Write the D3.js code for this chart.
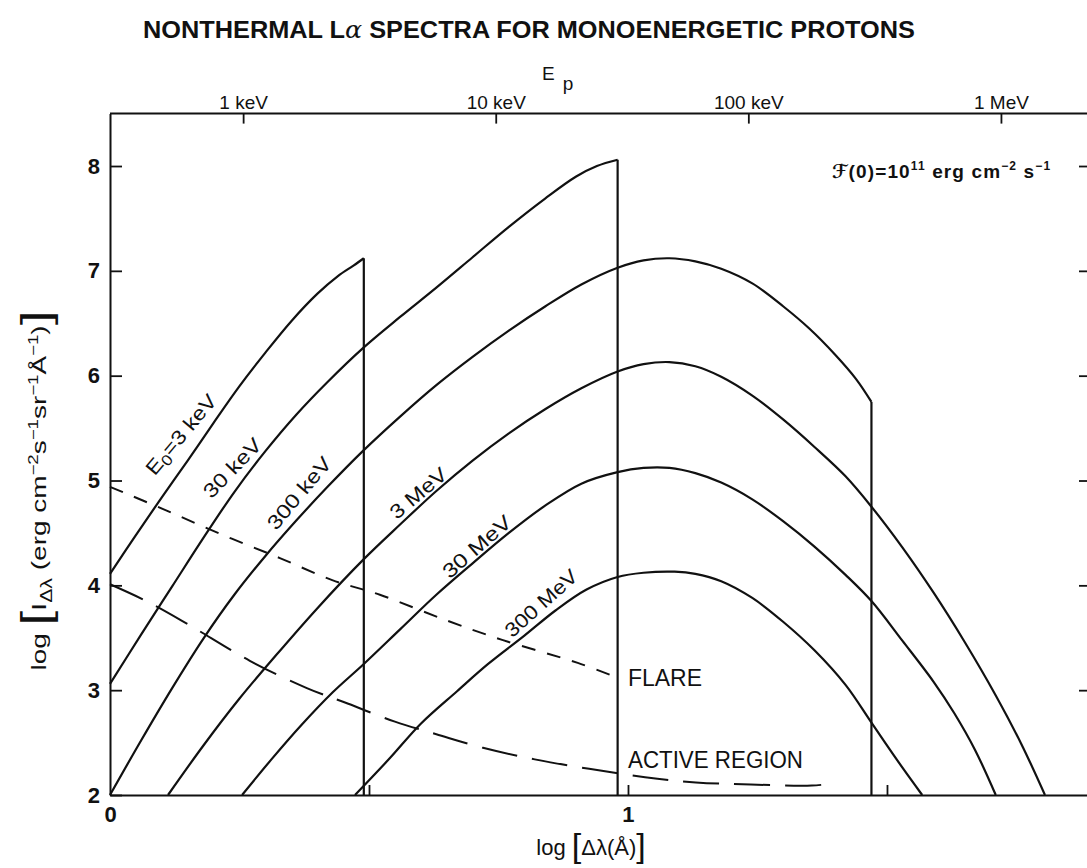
<!DOCTYPE html>
<html>
<head>
<meta charset="utf-8">
<script src="https://cdn.jsdelivr.net/npm/d3@7"></script>
<style>
  html, body { margin: 0; padding: 0; background: #fff; }
  svg { display: block; }
  text { font-family: "Liberation Sans", Arial, sans-serif; fill: #111; }
</style>
</head>
<body>
<svg id="chart" width="1087" height="868"></svg>
<script>
// Nonthermal Lyman-alpha line-wing spectra produced by monoenergetic proton beams.
// Each series: [log Δλ (Å), log I_Δλ]

const spectrum3keV = [[0,4.11],[0.05,4.48],[0.10,4.84],[0.15,5.19],[0.20,5.55],[0.25,5.90],[0.30,6.22],[0.35,6.52],[0.40,6.78],[0.44,6.95],[0.47,7.05],[0.49,7.12]];
const spectrum30keV = [[0,3.06],[0.06,3.53],[0.12,3.99],[0.18,4.45],[0.24,4.89],[0.30,5.28],[0.36,5.63],[0.42,5.94],[0.49,6.27],[0.56,6.56],[0.63,6.84],[0.70,7.13],[0.77,7.42],[0.84,7.69],[0.90,7.90],[0.94,8.00],[0.98,8.06]];
const spectrum300keV = [[0,2.0],[0.06,2.52],[0.12,3.02],[0.18,3.49],[0.24,3.91],[0.30,4.28],[0.36,4.62],[0.42,4.94],[0.49,5.29],[0.56,5.61],[0.63,5.91],[0.70,6.18],[0.77,6.43],[0.84,6.66],[0.91,6.87],[0.98,7.03],[1.03,7.10],[1.08,7.12],[1.13,7.09],[1.18,7.02],[1.24,6.88],[1.30,6.66],[1.35,6.45],[1.40,6.20],[1.44,5.97],[1.47,5.75]];
const spectrum3MeV = [[0.112,2.0],[0.18,2.47],[0.25,2.92],[0.32,3.33],[0.40,3.78],[0.49,4.25],[0.56,4.58],[0.63,4.90],[0.70,5.19],[0.77,5.45],[0.84,5.68],[0.91,5.88],[0.98,6.04],[1.03,6.11],[1.08,6.13],[1.13,6.09],[1.18,5.99],[1.24,5.81],[1.30,5.58],[1.36,5.32],[1.42,5.04],[1.47,4.75],[1.53,4.36],[1.59,3.93],[1.65,3.46],[1.71,2.95],[1.76,2.48],[1.805,2.0]];
const spectrum30MeV = [[0.255,2.0],[0.31,2.33],[0.37,2.67],[0.43,2.98],[0.49,3.25],[0.56,3.58],[0.63,3.91],[0.70,4.21],[0.77,4.50],[0.84,4.76],[0.91,4.97],[0.98,5.08],[1.03,5.12],[1.08,5.12],[1.13,5.07],[1.18,4.98],[1.24,4.82],[1.30,4.61],[1.36,4.37],[1.42,4.10],[1.47,3.85],[1.53,3.47],[1.59,3.08],[1.63,2.78],[1.67,2.43],[1.71,2.0]];
const spectrum300MeV = [[0.473,2.0],[0.54,2.35],[0.60,2.68],[0.67,2.99],[0.73,3.25],[0.80,3.52],[0.86,3.76],[0.92,3.96],[0.98,4.08],[1.03,4.12],[1.09,4.13],[1.13,4.11],[1.18,4.04],[1.24,3.88],[1.30,3.65],[1.36,3.38],[1.42,3.05],[1.47,2.69],[1.52,2.33],[1.568,2.0]];

// Background quiet-line intensities for comparison
const flare = [[0,4.94],[0.106,4.72],[0.218,4.48],[0.328,4.26],[0.429,4.05],[0.521,3.91],[0.647,3.67],[0.757,3.48],[0.903,3.26],[0.969,3.14]];
const activeRegion = [[0,4.01],[0.07,3.85],[0.15,3.63],[0.27,3.28],[0.38,3.02],[0.46,2.87],[0.55,2.70],[0.63,2.58],[0.72,2.45],[0.82,2.34],[0.925,2.25],[1.033,2.17],[1.131,2.12],[1.237,2.10],[1.355,2.09],[1.396,2.11]];

// Curve labels (initial beam energy E0) and whether the spectrum is cut off at E0
const beamLabels = ["3 keV", "30 keV", "300 keV", "3 MeV", "30 MeV", "300 MeV"];
const beamCutoff = [true, true, true, false, false, false];

// Axes
const yTicks = [2, 3, 4, 5, 6, 7, 8];
const xTicks = [0, 0.5, 1, 1.5];
const xTickLabels = ["0", "", "1", ""];
const epTicks = [1, 10, 100, 1000];              // keV
const epTickLabels = ["1 keV", "10 keV", "100 keV", "1 MeV"];

// ---------------------------------------------------------------------------
const svg = d3.select("#chart");
const ink = "#111";

const x = d3.scaleLinear().domain([0, 1.89]).range([110, 1089]);
const y = d3.scaleLinear().domain([2, 8.5]).range([795, 113.6]);
// proton energy axis: log Δλ of 1 keV and 1 MeV protons
const xTop = d3.scaleLog().domain([1, 1000]).range([x(0.257), x(1.72)]);

const series = [spectrum3keV, spectrum30keV, spectrum300keV, spectrum3MeV, spectrum30MeV, spectrum300MeV];

const line = d3.line()
  .x(d => x(d[0]))
  .y(d => y(d[1]))
  .curve(d3.curveCatmullRom.alpha(0.5));

// frame and axes
function styleAxis(g, fs, weight) {
  g.select(".domain").attr("stroke", ink).attr("stroke-width", 2);
  g.selectAll(".tick line").attr("stroke", ink).attr("stroke-width", 1.8);
  g.selectAll(".tick text").attr("fill", ink).style("font-size", fs + "px")
    .style("font-weight", weight || "normal")
    .style("font-family", "'Liberation Sans', Arial, sans-serif");
}

const axisL = svg.append("g").attr("transform", `translate(${x(0)},0)`)
  .call(d3.axisLeft(y).tickValues(yTicks).tickFormat(d3.format("d"))
    .tickSizeInner(-12).tickSizeOuter(0).tickPadding(10));
styleAxis(axisL, 22, "bold");

const axisR = svg.append("g").attr("transform", `translate(${x(1.89)},0)`)
  .call(d3.axisRight(y).tickValues(yTicks.slice(1)).tickFormat("")
    .tickSizeInner(-10).tickSizeOuter(0));
styleAxis(axisR, 21);

const axisB = svg.append("g").attr("transform", `translate(0,${y(2)})`)
  .call(d3.axisBottom(x).tickValues(xTicks).tickFormat((d, i) => xTickLabels[i])
    .tickSizeInner(-10).tickSizeOuter(0).tickPadding(11));
styleAxis(axisB, 22, "bold");
axisB.selectAll(".tick").filter(d => d === 0).select("line").remove();

const axisT = svg.append("g").attr("transform", `translate(0,${y(8.5)})`)
  .call(d3.axisTop(xTop).tickValues(epTicks).tickFormat((d, i) => epTickLabels[i])
    .tickSizeInner(-10).tickSizeOuter(0).tickPadding(5));
axisT.select(".domain").remove();
axisT.append("line").attr("x1", x(0)).attr("x2", x(1.89)).attr("y1", 0).attr("y2", 0)
  .attr("stroke", ink).attr("stroke-width", 2);
styleAxis(axisT, 19);

// spectra
const curves = svg.append("g").attr("fill", "none").attr("stroke", ink)
  .attr("stroke-width", 2.2).attr("stroke-linejoin", "round");

series.forEach((s, i) => {
  curves.append("path").attr("d", line(s));
  if (beamCutoff[i]) {
    const last = s[s.length - 1];
    curves.append("line")
      .attr("x1", x(last[0])).attr("x2", x(last[0]))
      .attr("y1", y(last[1])).attr("y2", y(2));
  }
});

curves.append("path").attr("d", line(flare))
  .attr("stroke-dasharray", "14,12").attr("stroke-width", 2);
curves.append("path").attr("d", line(activeRegion))
  .attr("stroke-dasharray", "36,15").attr("stroke-width", 2);

// curve labels, placed in data coordinates beside each spectrum
const labelPlace = [
  { v: 0.137, I: 5.44, a: -50, len: 98 },
  { v: 0.236, I: 5.12, a: -46, len: 74 },
  { v: 0.365, I: 4.88, a: -50, len: 88 },
  { v: 0.595, I: 4.88, a: -40, len: 68 },
  { v: 0.708, I: 4.37, a: -41, len: 84 },
  { v: 0.832, I: 3.83, a: -42, len: 90 }
];
const labels = svg.append("g").style("font-size", "20px");
beamLabels.forEach((t, i) => {
  const p = labelPlace[i];
  const txt = labels.append("text")
    .attr("transform", `translate(${x(p.v)},${y(p.I)}) rotate(${p.a})`)
    .attr("text-anchor", "middle").attr("dominant-baseline", "central")
    .attr("textLength", p.len).attr("lengthAdjust", "spacingAndGlyphs");
  if (i === 0) {
    txt.append("tspan").text("E");
    txt.append("tspan").attr("dy", 5).style("font-size", "15px").text("0");
    txt.append("tspan").attr("dy", -5).text("=" + t);
  } else {
    txt.text(t);
  }
});

svg.append("text").attr("x", x(1.0)).attr("y", y(3.04))
  .style("font-size", "23px").attr("textLength", 74).attr("lengthAdjust", "spacingAndGlyphs")
  .text("FLARE");
svg.append("text").attr("x", x(1.0)).attr("y", y(2.26))
  .style("font-size", "23px").attr("textLength", 175).attr("lengthAdjust", "spacingAndGlyphs")
  .text("ACTIVE REGION");

// incident energy flux note
const note = svg.append("text").attr("x", x(1.394)).attr("y", y(7.89))
  .style("font-size", "19px").style("font-weight", "bold")
  .attr("textLength", 218).attr("lengthAdjust", "spacing");
note.append("tspan").style("font-family", "'DejaVu Sans', sans-serif").style("font-style", "italic").text("ℱ");
note.append("tspan").text("(0)=10");
note.append("tspan").attr("dy", -8).style("font-size", "12px").text("11");
note.append("tspan").attr("dy", 8).text(" erg cm");
note.append("tspan").attr("dy", -8).style("font-size", "12px").text("−2");
note.append("tspan").attr("dy", 8).text(" s");
note.append("tspan").attr("dy", -8).style("font-size", "12px").text("−1");

// title
const title = svg.append("text").attr("x", 143).attr("y", 38)
  .style("font-size", "24px").style("font-weight", "bold")
  .attr("textLength", 772).attr("lengthAdjust", "spacingAndGlyphs");
title.append("tspan").text("NONTHERMAL L");
title.append("tspan").style("font-family", "'DejaVu Serif', serif").style("font-style", "italic").style("font-weight", "normal").text("α");
title.append("tspan").text(" SPECTRA FOR MONOENERGETIC PROTONS");

// proton energy axis title
const ep = svg.append("text").attr("x", 542).attr("y", 80).style("font-size", "19px");
ep.append("tspan").text("E");
ep.append("tspan").attr("dx", 8).attr("dy", 10).text("p");

// x axis title
const xt = svg.append("text").attr("x", 591).attr("y", 855)
  .attr("text-anchor", "middle").style("font-size", "22px");
xt.append("tspan").text("log ");
xt.append("tspan").style("font-size", "34px").style("font-weight", "200").attr("dy", 2).text("[");
xt.append("tspan").attr("dy", -2).text("Δλ(Å)");
xt.append("tspan").style("font-size", "34px").style("font-weight", "200").attr("dy", 2).text("]");

// y axis title
const yt = svg.append("text")
  .attr("transform", `translate(46,${(673 + 308) / 2}) rotate(-90)`)
  .attr("text-anchor", "middle").style("font-size", "21px")
  .attr("textLength", 360).attr("lengthAdjust", "spacingAndGlyphs");
yt.append("tspan").text("log ");
yt.append("tspan").style("font-size", "40px").attr("dy", 4).text("[");
yt.append("tspan").attr("dy", -4).text("I");
yt.append("tspan").attr("dy", 6).style("font-size", "16px").text("Δλ");
yt.append("tspan").attr("dy", -6).text("  (erg cm");
yt.append("tspan").attr("dy", -8).style("font-size", "14px").text("−2");
yt.append("tspan").attr("dy", 8).text("s");
yt.append("tspan").attr("dy", -8).style("font-size", "14px").text("−1");
yt.append("tspan").attr("dy", 8).text("sr");
yt.append("tspan").attr("dy", -8).style("font-size", "14px").text("−1");
yt.append("tspan").attr("dy", 8).text("Å");
yt.append("tspan").attr("dy", -8).style("font-size", "14px").text("−1");
yt.append("tspan").attr("dy", 8).text(")");
yt.append("tspan").style("font-size", "40px").attr("dy", 4).text("]");
</script>
</body>
</html>
